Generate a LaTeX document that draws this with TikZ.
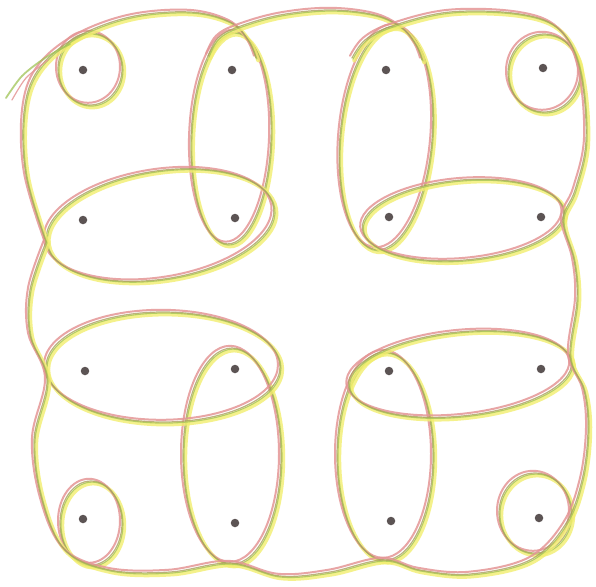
\documentclass[tikz,border=0pt]{standalone}
\usetikzlibrary{calc}
\definecolor{ylw}{RGB}{242,238,110}
\definecolor{pnk}{RGB}{228,150,150}
\definecolor{olv}{RGB}{170,160,95}
\definecolor{grn}{RGB}{160,195,85}
\definecolor{dotc}{RGB}{92,84,84}
\tikzset{
  ylwline/.style={draw=ylw,line width=4pt,opacity=0.8,line cap=round,line join=round},
  pnkline/.style={draw=pnk,line width=2pt,opacity=0.85,line cap=round,line join=round},
  olvline/.style={draw=olv,line width=1.2pt,opacity=0.8,line cap=round,line join=round},
  grnline/.style={draw=grn,line width=1.1pt,opacity=0.75,line cap=round,line join=round},
  dotnode/.style={circle,fill=dotc,inner sep=0pt,minimum size=8.5pt},
}
\newcommand\crayon[2][]{%
  \path[ylwline,#1,shift={(2.2,2.4)}] #2;
  \path[pnkline,#1,shift={(-2.0,-2.2)}] #2;
  \path[grnline,#1,shift={(1.0,1.1)}] #2;
  \path[olvline,#1] #2;}
\begin{document}
\begin{tikzpicture}[x=1pt,y=-1pt]
\fill[white] (0,0) rectangle (596,586);
\useasboundingbox (0,0) rectangle (596,586);

% small corner loops
\crayon{(90,69) ellipse [x radius=32pt, y radius=36pt]}
\crayon{(544,73) ellipse [x radius=36pt, y radius=39pt]}
\crayon{(91,523) ellipse [x radius=31pt, y radius=42pt]}
\crayon{(535,513) ellipse [x radius=36pt, y radius=40pt]}

% vertical loops
\crayon[rotate around={-2:(231,138)}]{(231,138) ellipse [x radius=40pt, y radius=106pt]}
\crayon[rotate around={-5:(386,138)}]{(386,138) ellipse [x radius=46pt, y radius=112pt]}
\crayon{(232,456) ellipse [x radius=49pt, y radius=108pt]}
\crayon{(385,456) ellipse [x radius=48pt, y radius=104pt]}

% horizontal loops
\crayon[rotate around={9:(160,225)}]{(160,225) ellipse [x radius=115pt, y radius=54pt]}
\crayon[rotate around={5:(463,220)}]{(463,220) ellipse [x radius=101pt, y radius=40pt]}
\crayon{(163,367) ellipse [x radius=117pt, y radius=55pt]}
\crayon[rotate around={6:(460,374)}]{(460,374) ellipse [x radius=112pt, y radius=42pt]}

% outer strands
\crayon{plot[smooth,tension=0.6] coordinates {(46,242) (26,175) (24,112) (38,70) (75,38) (130,17) (190,12) (230,22) (248,40) (256,58)}}
\crayon{plot[smooth,tension=0.6] coordinates {(208,56) (218,38) (238,27) (280,15) (330,10) (375,15) (402,28) (416,45) (422,60)}}
\crayon{plot[smooth,tension=0.6] coordinates {(352,58) (365,40) (392,26) (450,12) (520,14) (560,30) (580,70) (586,140) (575,190) (563,220) (574,260) (577,300) (570,356) (584,390) (588,430) (582,480) (565,525) (530,560) (470,574) (420,570) (383,560) (330,572) (280,576) (230,563) (170,572) (110,570) (65,550) (42,500) (34,440) (47,380) (30,335) (30,290) (46,242)}}
% tail stroke
\path[grnline,line width=1.8pt] plot[smooth] coordinates {(6,98) (22,76) (45,58) (70,44)};
\path[pnkline,line width=1.2pt] plot[smooth] coordinates {(12,100) (26,78) (48,60)};

% dots
\node[dotnode] (a1) at (83,70) {};
\node[dotnode] (a2) at (232,70) {};
\node[dotnode] (a3) at (386,70) {};
\node[dotnode] (a4) at (543,68) {};
\node[dotnode] (b1) at (83,220) {};
\node[dotnode] (b2) at (235,218) {};
\node[dotnode] (b3) at (389,217) {};
\node[dotnode] (b4) at (541,217) {};
\node[dotnode] (c1) at (85,371) {};
\node[dotnode] (c2) at (235,369) {};
\node[dotnode] (c3) at (389,371) {};
\node[dotnode] (c4) at (541,369) {};
\node[dotnode] (d1) at (83,519) {};
\node[dotnode] (d2) at (235,523) {};
\node[dotnode] (d3) at (391,521) {};
\node[dotnode] (d4) at (539,518) {};
\end{tikzpicture}
\end{document}
